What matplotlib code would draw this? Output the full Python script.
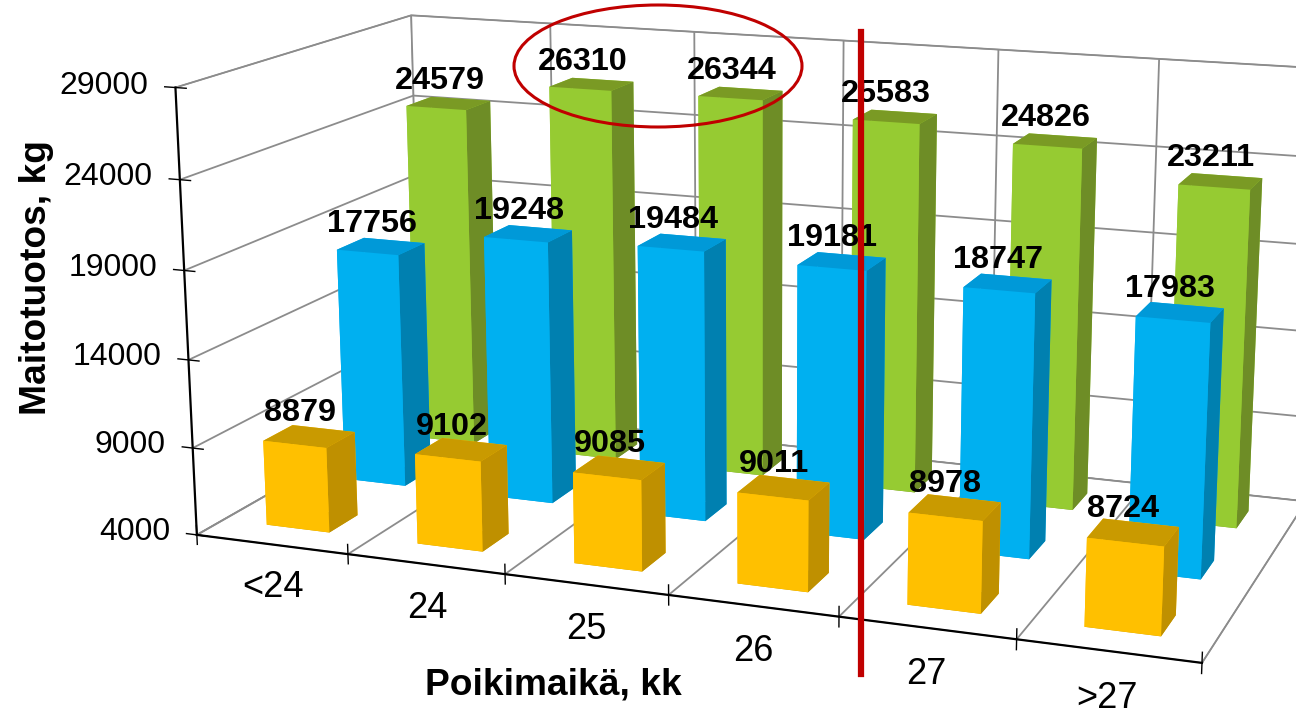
import matplotlib
matplotlib.use("Agg")
import matplotlib.pyplot as plt
from matplotlib.lines import Line2D
from matplotlib.patches import Ellipse
from mpl_toolkits.mplot3d import Axes3D, proj3d

plt.rcParams['font.family'] = ['Liberation Sans', 'DejaVu Sans']

categories = ['<24', '24', '25', '26', '27', '>27']
orange_vals = [8879, 9102, 9085, 9011, 8978, 8724]
blue_vals = [17756, 19248, 19484, 19181, 18747, 17983]
green_vals = [24579, 26310, 26344, 25583, 24826, 23211]
z_ticks = [4000, 9000, 14000, 19000, 24000, 29000]

# face order for bar3d: bottom, top, front, back, left, right
series = [
    (green_vals, 2.5, ('#7A9A24', '#7A9A24', '#96CB32', '#96CB32', '#96CB32', '#6E8D26')),
    (blue_vals, 1.5, ('#0099D8', '#0099D8', '#00B0F0', '#00B0F0', '#00B0F0', '#0080B0')),
    (orange_vals, 0.5, ('#C99A00', '#C99A00', '#FFC000', '#FFC000', '#FFC000', '#BF9000')),
]
bar_w = 0.42
bar_d = 0.36
z_min = 4000
z_max = 29000
grid_col = '#8C8C8C'
n_cat = len(categories)

fig = plt.figure(figsize=(12.96, 7.11), dpi=100)
ax = fig.add_axes([396 / 1296, 44 / 711, 711 / 1296, 1.0], projection='3d')
ax.set_facecolor('none')
ax.set_proj_type('persp', focal_length=0.78)
ax.view_init(elev=14.0, azim=-69.5)
ax.set_box_aspect((2.62, 1.28, 1.165), zoom=1.668)
ax.set_xlim(0, n_cat)
ax.set_ylim(0, 3)
ax.set_zlim(z_min, z_max)


def label3d(x, y, z, s, **kw):
    # put a 2D text at the projected spot of a data point
    px, py, _ = proj3d.proj_transform(x, y, z, ax.get_proj())
    ax.text2D(px, py, s, transform=ax.transData, zorder=100, **kw)


for axis in (ax.xaxis, ax.yaxis, ax.zaxis):
    axis.set_pane_color((1, 1, 1, 1))
    axis.pane.set_edgecolor(grid_col)
    axis.line.set_visible(False)
    axis._axinfo['grid'].update(color=grid_col, linewidth=1.3)
    axis._axinfo['tick'].update(inward_factor=0, outward_factor=0)
    axis.set_tick_params(length=0)

ax.set_xticks(range(n_cat + 1))
ax.set_yticks([])
ax.set_zticks(z_ticks)
ax.set_xticklabels([])
ax.set_zticklabels([])

# bars, back row first
for vals, y, cols in series:
    for i, v in enumerate(vals):
        b = ax.bar3d(i + 0.5 - bar_w / 2, y - bar_d / 2, z_min, bar_w, bar_d, v - z_min,
                     color=cols, shade=False, linewidth=0)
        b.set_clip_on(False)
        label3d(i + 0.44, y, v + 400, str(v), ha='center', va='bottom',
                fontsize=23.3, fontweight='bold', color='black')

# axis lines and ticks
ax.plot([0, n_cat], [0, 0], [z_min, z_min], color='black', lw=1.6, zorder=50, clip_on=False)
ax.plot([0, 0], [0, 0], [z_min, z_max], color='black', lw=1.6, zorder=50, clip_on=False)
for i in range(n_cat + 1):
    ax.plot([i, i], [0, 0], [z_min - 550, z_min + 550], color='black', lw=1.0, zorder=50,
            clip_on=False)
for z in z_ticks:
    ax.plot([-0.07, 0.07], [0, 0], [z, z], color='black', lw=1.0, zorder=50, clip_on=False)
    label3d(-0.18, 0, z, str(z), ha='right', va='center', fontsize=23)
for i, c in enumerate(categories):
    label3d(i + 0.5, 0, z_min - 2500, c, ha='center', va='center', fontsize=26)

fig.text(37 / 1296, 1 - 278 / 711, 'Maitotuotos, kg', rotation=90, ha='center', va='center',
         fontsize=26.7, fontweight='bold')
fig.text(553 / 1296, 1 - 685 / 711, 'Poikimaikä, kk', ha='center', va='center',
         fontsize=26.7, fontweight='bold')

# red annotations on top
fig.add_artist(Line2D([861 / 1296, 861 / 1296], [1 - 32 / 711, 1 - 674 / 711],
                      color='#C00000', lw=4.5, zorder=10))
ring = Ellipse((658 / 1296, 1 - 66 / 711), 288 / 1296, 122 / 711, fill=False,
               edgecolor='#C00000', lw=2.2, transform=fig.transFigure, zorder=10)
fig.add_artist(ring)

fig.savefig('out.png', dpi=100)
